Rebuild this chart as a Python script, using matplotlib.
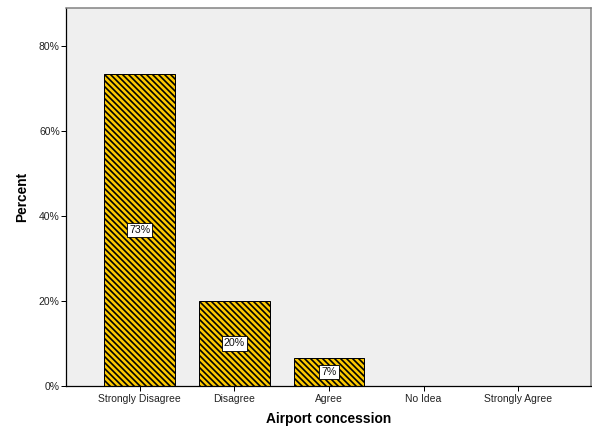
import matplotlib
matplotlib.use("Agg")
import matplotlib.pyplot as plt
from matplotlib.ticker import FuncFormatter

categories = ["Strongly Disagree", "Disagree", "Agree", "No Idea", "Strongly Agree"]
percents = [73.3, 20.0, 6.7, 0.0, 0.0]
labels = ["73%", "20%", "7%", "", ""]
yticks = [0, 20, 40, 60, 80]

DPI = 90
plt.rcParams['font.family'] = ['Liberation Sans', 'DejaVu Sans']
plt.rcParams['hatch.linewidth'] = 1.3
plt.rcParams['hatch.color'] = 'black'

fig = plt.figure(figsize=(592 / DPI, 427 / DPI), dpi=DPI)
ax = fig.add_axes([66 / 592, 1 - 386 / 427, (591 - 66) / 592, (386 - 8) / 427])
ax.set_facecolor('#EFEFEF')

x = list(range(len(categories)))
bars = ax.bar(x, percents, width=0.75, color='#FBC800', edgecolor='black',
              linewidth=0.8, hatch='\\' * 5)

for xi, p, lab in zip(x, percents, labels):
    if lab:
        ax.text(xi, p / 2, lab, ha='center', va='center', fontsize=8.5, color='#111111',
                bbox=dict(boxstyle='square,pad=0.2', facecolor='white',
                          edgecolor='black', linewidth=0.7))

ax.set_xlim(-0.78, 4.77)
ax.set_ylim(0, 88.9)
ax.set_xticks(x)
ax.set_xticklabels(categories, fontsize=8.3, color='#222222')
ax.set_yticks(yticks)
ax.yaxis.set_major_formatter(FuncFormatter(lambda v, pos: f"{int(v)}%"))
ax.tick_params(axis='y', labelsize=8.3, labelcolor='#222222', length=4, width=0.8, direction='out', pad=1)
ax.tick_params(axis='x', length=4, width=0.8, direction='out', pad=2)

for s in ['left', 'bottom']:
    ax.spines[s].set_color('black')
    ax.spines[s].set_linewidth(1.0)
for s in ['top', 'right']:
    ax.spines[s].set_color('#808080')
    ax.spines[s].set_linewidth(1.2)

ax.set_xlabel("Airport concession", fontsize=11, fontweight='bold', labelpad=7)
ax.set_ylabel("Percent", fontsize=11, fontweight='bold', labelpad=8)

fig.savefig("out.png", dpi=DPI, facecolor='white')
